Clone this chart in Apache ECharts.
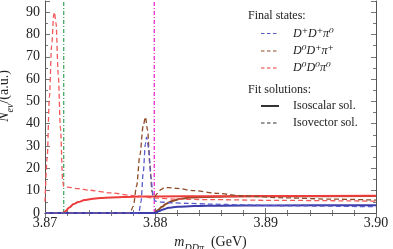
<!DOCTYPE html>
<html><head><meta charset="utf-8">
<script src="https://cdn.jsdelivr.net/npm/echarts@6/dist/echarts.min.js"></script>
<style>html,body{margin:0;padding:0;background:#fff}#c{width:393px;height:249px}</style>
</head><body><div id="c"></div>
<script>
// ---- data ----
const xTicks = [3.87, 3.88, 3.89, 3.90];
const yTicks = [0, 10, 20, 30, 40, 50, 60, 70, 80, 90];
const thresholdLines = [3.8717, 3.8799];

// D0 D0 pi0 (red)
const redVecX = [3.8700,3.8702,3.8704,3.8706,3.8708,3.87085,3.8710,3.8712,3.8714,3.8716,3.87168,3.8720,3.8730,3.8740,3.8760,3.8780,3.8800,3.8820,3.8850,3.8900,3.9000];
const redVecY = [5,25,52,75,89,90,85,62,38,15,12,11.6,10.9,10.2,9.0,7.8,6.7,6.2,6.0,5.7,5.3];
const redScaX = [3.8700,3.8716,3.8718,3.8722,3.8726,3.8730,3.8736,3.8742,3.8750,3.8760,3.8780,3.8800,3.8850,3.8900,3.9000];
const redScaY = [0,0,0.6,2.5,4.0,4.9,5.8,6.3,6.7,7.0,7.3,7.4,7.5,7.6,7.7];
// D0 D+ pi+ (brown)
const brownVecX = [3.8700,3.8777,3.8780,3.8783,3.8786,3.8789,3.8791,3.8793,3.8795,3.8797,3.8799,3.8802,3.8805,3.8808,3.8812,3.8820,3.8835,3.8856,3.8880,3.8917,3.8960,3.9000];
const brownVecY = [0,0,3,12,26,39,43,37,22,9.5,7.2,8.8,10.5,11.3,11.4,11.0,10.0,8.8,7.6,6.8,6.2,5.8];
const brownScaX = [3.8700,3.8799,3.8802,3.8806,3.8810,3.8815,3.8822,3.8832,3.8845,3.8865,3.8900,3.9000];
const brownScaY = [0,0,1.2,2.8,4.2,5.4,6.3,6.9,7.2,7.4,7.5,7.6];
// D+ D+ pi0 (blue)
const blueVecX = [3.8700,3.8785,3.8787,3.8789,3.8791,3.8792,3.8794,3.8796,3.8798,3.8800,3.8805,3.8815,3.8830,3.8850,3.8880,3.8920,3.9000];
const blueVecY = [0,0,5,18,31,34,29,16,7,5.3,4.9,4.6,4.3,4.0,3.6,3.2,2.8];
const blueScaX = [3.8700,3.8800,3.8803,3.8807,3.8812,3.8820,3.8835,3.8860,3.8900,3.9000];
const blueScaY = [0,0,0.8,1.6,2.3,2.8,3.1,3.3,3.4,3.5];

const legendStates = ['D⁺D⁺π⁰', 'D⁰D⁺π⁺', 'D⁰D⁰π⁰'];
const legendFits = ['Isoscalar sol.', 'Isovector sol.'];

// ---- chart ----
const SERIF = '"Liberation Serif", "DejaVu Serif", serif';
const AX = '#555';
const pairs = (xs, ys) => xs.map((x, i) => [x, ys[i]]);
const C = {blue:'#5a5ac8', blueS:'#3c3cac', brown:'#8f4a26', red:'#ec3c3c', redD:'#f25a5a', green:'#1f9a45', mag:'#f000c8'};

function ln(name, xs, ys, color, dashed, z) {
  return {
    type: 'line', name, data: pairs(xs, ys), showSymbol: false, symbol: 'none',
    smooth: 0.3, smoothMonotone: 'x', z: z || 2, silent: true,
    lineStyle: dashed ? {color, width: 1.3, type: [5, 3]} : {color, width: 2}
  };
}
function vline(x, color) {
  return {
    type: 'line', data: [[x, 0], [x, 95]], showSymbol: false, symbol: 'none', silent: true, z: 1,
    lineStyle: {color, width: 1.1, type: [4, 2, 1, 2]}
  };
}

const tickCommon = {show: true, inside: true, length: 5, lineStyle: {color: AX, width: 0.8}};
const minorCommon = {show: true, length: 3, lineStyle: {color: AX, width: 0.8}};

const chart = echarts.init(document.getElementById('c'), null, {renderer: 'canvas'});
const option = {
  animation: false,
  grid: {left: 45, right: 17, top: 1, bottom: 36, containLabel: false, outerBoundsMode: 'none'},
  xAxis: [{
    type: 'value', min: xTicks[0], max: xTicks[xTicks.length - 1], interval: 0.01, position: 'bottom',
    axisLine: {show: true, lineStyle: {color: AX, width: 1}},
    axisTick: tickCommon, minorTick: Object.assign({splitNumber: 5}, minorCommon),
    splitLine: {show: false},
    axisLabel: {formatter: v => v.toFixed(2), fontFamily: SERIF, fontSize: 14, color: '#222', margin: 3},
    name: '{m|m}{s|DDπ}{n|  (GeV)}', nameLocation: 'middle', nameGap: 9,
    nameTextStyle: {rich: {
      m: {fontFamily: SERIF, fontStyle: 'italic', fontSize: 14, color: '#222', lineHeight: 18, verticalAlign: 'top'},
      s: {fontFamily: SERIF, fontStyle: 'italic', fontSize: 10, color: '#222', lineHeight: 18, verticalAlign: 'bottom'},
      n: {fontFamily: SERIF, fontSize: 14, color: '#222', lineHeight: 18, verticalAlign: 'top'}
    }}
  }, {
    type: 'value', min: xTicks[0], max: xTicks[xTicks.length - 1], interval: 0.01, position: 'top',
    axisLine: {show: true, lineStyle: {color: AX, width: 1}},
    axisTick: tickCommon, minorTick: Object.assign({splitNumber: 5}, minorCommon),
    splitLine: {show: false}, axisLabel: {show: false}
  }],
  yAxis: [{
    type: 'value', min: yTicks[0], max: 95, interval: 10, position: 'left',
    axisLine: {show: true, lineStyle: {color: AX, width: 1}},
    axisTick: tickCommon, minorTick: Object.assign({splitNumber: 2}, minorCommon),
    splitLine: {show: false},
    axisLabel: {showMaxLabel: false, formatter: v => (v % 10 === 0 && v <= 90) ? String(v) : '', fontFamily: SERIF, fontSize: 14, color: '#222', margin: 5},
    name: '{n|N\u0305}{s|ev}{t|/(a.u.)}', nameLocation: 'middle', nameRotate: 90, nameGap: 18,
    nameTextStyle: {padding: [0, 0, 0, 22], rich: {
      n: {fontFamily: SERIF, fontStyle: 'italic', fontSize: 14, color: '#222', lineHeight: 18, verticalAlign: 'top'},
      s: {fontFamily: SERIF, fontStyle: 'italic', fontSize: 10, color: '#222', lineHeight: 18, verticalAlign: 'bottom'},
      t: {fontFamily: SERIF, fontSize: 14, color: '#222', lineHeight: 18, verticalAlign: 'top'}
    }}
  }, {
    type: 'value', min: yTicks[0], max: 95, interval: 10, position: 'right',
    axisLine: {show: true, lineStyle: {color: AX, width: 1}},
    axisTick: tickCommon, minorTick: Object.assign({splitNumber: 2}, minorCommon),
    splitLine: {show: false}, axisLabel: {show: false}
  }],
  series: [
    vline(thresholdLines[0], C.green),
    vline(thresholdLines[1], C.mag),
    ln('brownSca', brownScaX, brownScaY, C.brown, false, 3),
    ln('redSca', redScaX, redScaY, C.red, false, 3),
    ln('blueSca', blueScaX, blueScaY, C.blueS, false, 3),
    ln('redVec', redVecX, redVecY, C.redD, true, 4),
    ln('brownVec', brownVecX, brownVecY, C.brown, true, 4),
    ln('blueVec', blueVecX, blueVecY, C.blue, true, 4)
  ],
  graphic: []
};

// legend (drawn as graphic text/lines)
const G = [];
const legendColors = [C.blue, C.brown, C.red];
const rowY = [33.5, 51, 68];
G.push({type: 'text', x: 248, y: 16, style: {text: 'Final states:', font: '12px ' + SERIF, fill: '#222', verticalAlign: 'middle'}});
legendStates.forEach((t, i) => {
  G.push({type: 'line', shape: {x1: 261, y1: rowY[i], x2: 279, y2: rowY[i]}, style: {stroke: legendColors[i], lineWidth: 1.2, lineDash: [3.5, 2.5]}});
  G.push({type: 'text', x: 293, y: rowY[i], style: {text: t, font: 'italic 12px ' + SERIF, fill: '#222', verticalAlign: 'middle'}});
});
G.push({type: 'text', x: 248, y: 90, style: {text: 'Fit solutions:', font: '12px ' + SERIF, fill: '#222', verticalAlign: 'middle'}});
const fitY = [106, 123];
legendFits.forEach((t, i) => {
  G.push({type: 'line', shape: {x1: 261, y1: fitY[i], x2: 279, y2: fitY[i]}, style: i === 0 ? {stroke: '#333', lineWidth: 2} : {stroke: '#333', lineWidth: 1.2, lineDash: [3.5, 2.5]}});
  G.push({type: 'text', x: 293, y: fitY[i], style: {text: t, font: '12px ' + SERIF, fill: '#222', verticalAlign: 'middle'}});
});
option.graphic = G;
chart.setOption(option);
</script></body></html>
